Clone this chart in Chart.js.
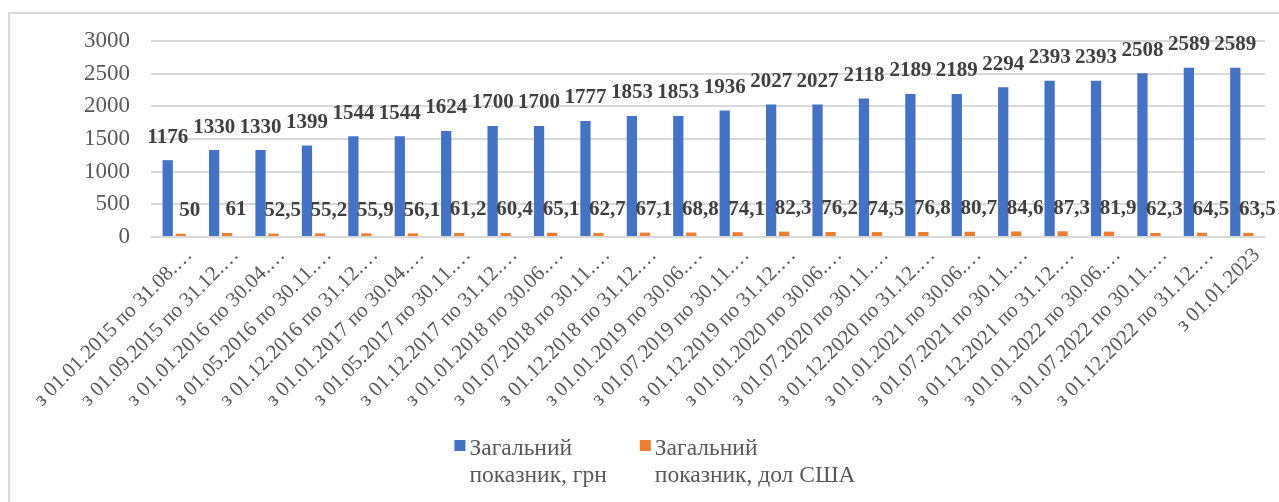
<!DOCTYPE html>
<html>
<head>
<meta charset="utf-8">
<script src="https://cdn.jsdelivr.net/npm/chart.js@4.4.1/dist/chart.umd.min.js"></script>
<style>
  html, body { margin: 0; padding: 0; background: #ffffff; overflow: hidden; }
  #wrap { position: relative; width: 1279px; height: 502px; }
  #frame { position: absolute; left: 8px; top: 12px; width: 1400px; height: 600px;
           border-left: 2px solid #d9d9d9; border-top: 2px solid #d9d9d9; box-sizing: border-box; pointer-events: none; }
  canvas { position: absolute; left: 0; top: 0; }
</style>
</head>
<body>
<div id="wrap">
  <div id="frame"></div>
  <canvas id="c" width="1279" height="502"></canvas>
</div>
<script>
const categories = [
  "з 01.01.2015 по 31.08.…",
  "з 01.09.2015 по 31.12.…",
  "з 01.01.2016 по 30.04.…",
  "з 01.05.2016 по 30.11.…",
  "з 01.12.2016 по 31.12.…",
  "з 01.01.2017 по 30.04.…",
  "з 01.05.2017 по 30.11.…",
  "з 01.12.2017 по 31.12.…",
  "з 01.01.2018 по 30.06.…",
  "з 01.07.2018 по 30.11.…",
  "з 01.12.2018 по 31.12.…",
  "з 01.01.2019 по 30.06.…",
  "з 01.07.2019 по 30.11.…",
  "з 01.12.2019 по 31.12.…",
  "з 01.01.2020 по 30.06.…",
  "з 01.07.2020 по 30.11.…",
  "з 01.12.2020 по 31.12.…",
  "з 01.01.2021 по 30.06.…",
  "з 01.07.2021 по 30.11.…",
  "з 01.12.2021 по 31.12.…",
  "з 01.01.2022 по 30.06.…",
  "з 01.07.2022 по 30.11.…",
  "з 01.12.2022 по 31.12.…",
  "з 01.01.2023"
];
const seriesUAH = [1176,1330,1330,1399,1544,1544,1624,1700,1700,1777,1853,1853,1936,2027,2027,2118,2189,2189,2294,2393,2393,2508,2589,2589];
const seriesUSD = [50,61,52.5,55.2,55.9,56.1,61.2,60.4,65.1,62.7,67.1,68.8,74.1,82.3,76.2,74.5,76.8,80.7,84.6,87.3,81.9,62.3,64.5,63.5];
const seriesNames = ["Загальний показник, грн", "Загальний показник, дол США"];
const legendLines = [["Загальний", "показник, грн"], ["Загальний", "показник, дол США"]];
const seriesColors = ['#4472C4', '#ED7D31'];
const yTicks = [0,500,1000,1500,2000,2500,3000];

const FONT = "'Liberation Serif', 'Times New Roman', serif";
const PAD_L = 40;
const PLOT_L = 151;
const PLOT_T = 41;
const PLOT_B = 237;

const dataLabelPlugin = {
  id: 'valueLabels',
  afterDatasetsDraw(chart) {
    const ctx = chart.ctx;
    ctx.save();
    ctx.font = "bold 21px " + FONT;
    ctx.fillStyle = '#404040';
    ctx.textAlign = 'center';
    ctx.textBaseline = 'middle';
    chart.data.datasets.forEach((ds, di) => {
      const meta = chart.getDatasetMeta(di);
      const dx = di === 1 ? 9 : 0;
      meta.data.forEach((el, i) => {
        const v = ds.data[i];
        const txt = String(v).replace('.', ',');
        ctx.fillText(txt, el.x + dx, el.y - 23);
      });
    });
    ctx.restore();
  }
};

const legendPlugin = {
  id: 'twoLineLegend',
  afterDraw(chart) {
    const ctx = chart.ctx;
    ctx.save();
    ctx.font = "23.5px " + FONT;
    ctx.textBaseline = 'alphabetic';
    ctx.textAlign = 'left';
    const box = 11, gapText = 4, gapItem = 33;
    const widths = legendLines.map(ls => Math.max(...ls.map(l => ctx.measureText(l).width)));
    const total = widths.reduce((a, w) => a + box + gapText + w, 0) + gapItem * (widths.length - 1);
    let x = 655 - total / 2;
    const base1 = 455, lineH = 27;
    legendLines.forEach((ls, i) => {
      ctx.fillStyle = seriesColors[i];
      ctx.fillRect(x, 440, box, box);
      ctx.fillStyle = '#595959';
      ls.forEach((l, j) => ctx.fillText(l, x + box + gapText, base1 + j * lineH));
      x += box + gapText + widths[i] + gapItem;
    });
    ctx.restore();
  }
};

new Chart(document.getElementById('c'), {
  type: 'bar',
  data: {
    labels: categories,
    datasets: [
      { label: seriesNames[0], data: seriesUAH, backgroundColor: seriesColors[0],
        categoryPercentage: 0.56, barPercentage: 0.79 },
      { label: seriesNames[1], data: seriesUSD, backgroundColor: seriesColors[1],
        categoryPercentage: 0.56, barPercentage: 0.79 }
    ]
  },
  options: {
    responsive: false,
    animation: false,
    devicePixelRatio: 1,
    layout: { padding: { left: PAD_L, right: 14, top: PLOT_T, bottom: 0 } },
    plugins: {
      tooltip: { enabled: false },
      legend: { display: false }
    },
    scales: {
      x: {
        offset: true,
        grid: { display: false, drawTicks: false },
        border: { display: false },
        ticks: {
          autoSkip: false,
          minRotation: 45,
          maxRotation: 45,
          color: '#595959',
          font: { family: FONT, size: 21 },
          padding: 6,
          labelOffset: 15
        },
        afterFit(scale) { scale.height = 502 - PLOT_B; }
      },
      y: {
        min: 0,
        max: 3000,
        afterBuildTicks(scale) { scale.ticks = yTicks.map(v => ({ value: v })); },
        grid: { color: '#d9d9d9', lineWidth: 2, drawTicks: false },
        border: { display: false },
        ticks: {
          color: '#595959',
          font: { family: FONT, size: 23 },
          padding: 21,
          callback: (v) => String(v)
        },
        afterFit(scale) { scale.width = PLOT_L - PAD_L; }
      }
    }
  },
  plugins: [dataLabelPlugin, legendPlugin]
});
</script>
</body>
</html>
